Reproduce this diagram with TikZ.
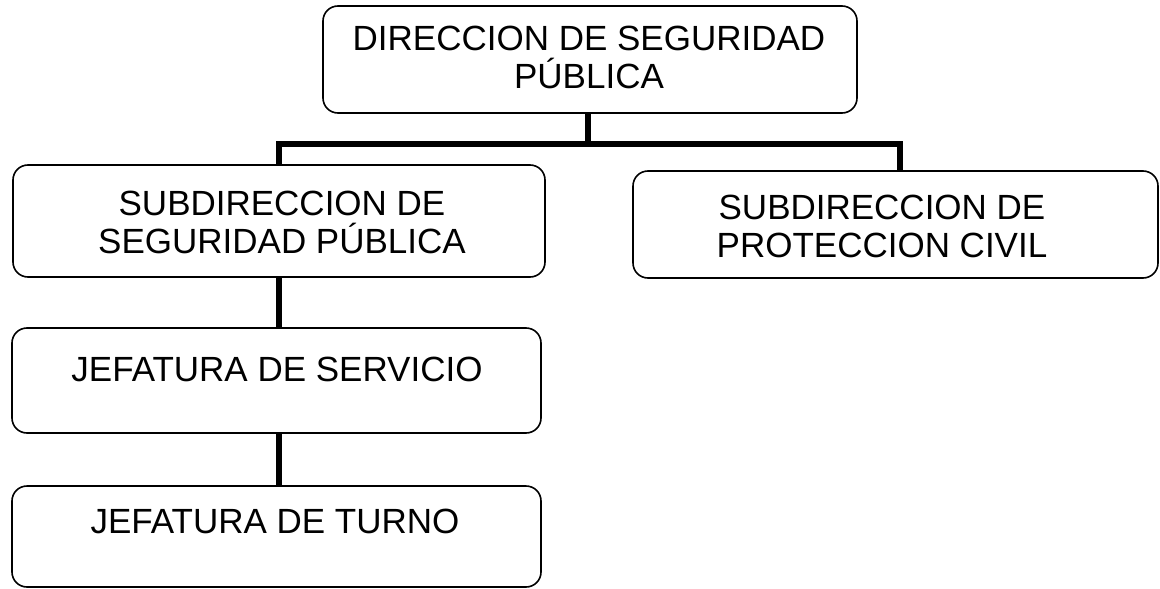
\documentclass[tikz,border=0pt]{standalone}
\usepackage{fontspec}
\setmainfont{Liberation Sans}
\begin{document}
\begin{tikzpicture}[x=1pt,y=-1pt,
  orgbox/.style={draw=black, line width=1.6pt, rounded corners=15pt, inner sep=0pt},
  orgtext/.style={inner sep=0pt, align=center, font=\fontsize{35}{38}\selectfont},
  link/.style={line width=5.5pt, line join=miter}]
\useasboundingbox (0,0) rectangle (1160,589);
\fill[white] (0,0) rectangle (1160,589);
% boxes
\node[orgbox, minimum width=534pt, minimum height=107pt] (dir) at (590,59.5) {};
\node[orgbox, minimum width=532pt, minimum height=112pt] (sub1) at (279,221) {};
\node[orgbox, minimum width=525pt, minimum height=107pt] (sub2) at (895.5,224.5) {};
\node[orgbox, minimum width=529pt, minimum height=105pt] (jserv) at (276.5,380.5) {};
\node[orgbox, minimum width=529pt, minimum height=101pt] (jturn) at (276.5,536.5) {};
% texts
\node[orgtext] (tdir) at (589,57) {DIRECCION DE SEGURIDAD\\PÚBLICA};
\node[orgtext] (tsub1) at (282,222) {SUBDIRECCION DE\\SEGURIDAD PÚBLICA};
\node[orgtext] (tsub2) at (882,226) {SUBDIRECCION DE\\PROTECCION CIVIL};
\node[orgtext] (tserv) at (277,369) {JEFATURA DE SERVICIO};
\node[orgtext] (tturn) at (275,521) {JEFATURA DE TURNO};
% connectors
\coordinate (bar) at (588,144);
\draw[link] (dir.south -| bar) -- (bar);
\draw[link] (sub1.north) |- (bar) -| (900,171);
\draw[link] (sub1.south) -- (sub1.south |- jserv.north);
\draw[link] (sub1.south |- jserv.south) -- (sub1.south |- jturn.north);
\end{tikzpicture}
\end{document}
